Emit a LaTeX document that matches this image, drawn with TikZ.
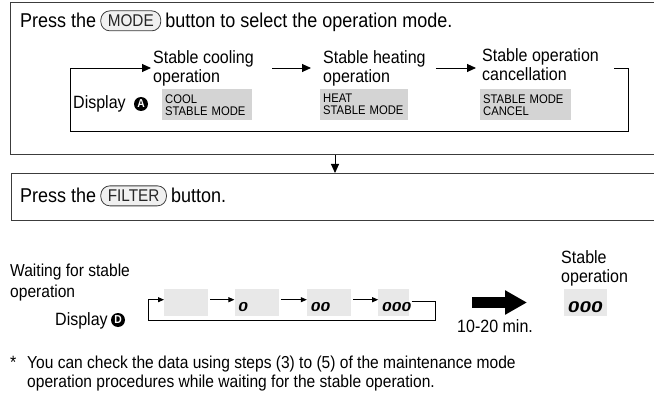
\documentclass[tikz,border=0pt]{standalone}
\usepackage{fontspec}
\setmainfont{Liberation Sans}[FakeStretch=0.9]
\newfontfamily\segfont{Liberation Sans}[FakeStretch=1.35,FakeSlant=0.18]
\usetikzlibrary{arrows.meta,positioning}
\definecolor{panelgray}{HTML}{D4D4D4}
\definecolor{lcdgray}{HTML}{E8E8E8}
\definecolor{framegray}{HTML}{3C3C3C}

\begin{document}
\begin{tikzpicture}[x=1pt,y=-1pt,
  every node/.style={inner sep=0pt},
  txt/.style={font=\fontsize{17.8}{19}\selectfont},
  head/.style={font=\fontsize{20}{22}\selectfont},
  lbl/.style={txt,align=left,anchor=north west},
  btn/.style={draw=framegray,line width=0.8pt,fill=black!6,rounded corners=9pt,
    inner xsep=7pt,minimum height=20pt,text=black!85,font=\fontsize{17}{17}\selectfont},
  panel/.style={fill=panelgray,anchor=north west,minimum height=31pt,inner xsep=3pt,
    align=left,font=\fontsize{12.5}{12}\selectfont},
  lcd/.style={fill=lcdgray,anchor=north west,minimum height=27pt,inner xsep=3pt,
    text width=38pt,align=left,text height=18pt,text depth=0pt,
    font=\segfont\bfseries\fontsize{13}{13}\selectfont},
  dispmark/.style={circle,fill=black,text=white,minimum size=14pt,
    font=\bfseries\fontsize{11.5}{11.5}\selectfont},
  frame/.style={draw=framegray,line width=1.3pt,anchor=north west,minimum width=680pt},
  flow/.style={-{Triangle[length=9pt,width=8pt]},line width=0.9pt},
  flowsm/.style={-{Triangle[length=6pt,width=5pt]},line width=0.8pt},
  bigarrow/.style={line width=11pt,-{Triangle[length=22pt,width=23pt]}}]
  \useasboundingbox (0,0) rectangle (654,401);

  % the two step frames
  \node[frame,minimum height=152pt] (stepA) at (10,2) {};
  \node[frame,minimum height=47pt] (stepB) at (11,173) {};
  \coordinate (downx) at (335,0);
  \draw[flow] (stepA.south -| downx) -- (stepB.north -| downx);

  % step 1
  \node[head,anchor=base west] (pressA) at (20,28) {Press the};
  \node[btn,right=4pt of pressA] (modebtn) {MODE};
  \node[head,anchor=base west,xshift=4pt] (pressAb) at (modebtn.east |- pressA.base)
    {button to select the operation mode.};

  \node[lbl] (cool) at (153,50) {Stable cooling\\operation};
  \node[lbl] (heat) at (323,50) {Stable heating\\operation};
  \node[lbl] (cancel) at (482,48) {Stable operation\\cancellation};
  \node[panel,text width=84pt] (coolpanel) at (162,89) {COOL\\STABLE MODE};
  \node[panel,text width=82pt] (heatpanel) at (320,89) {HEAT\\STABLE MODE};
  \node[panel,text width=85pt] (cancelpanel) at (480,89) {STABLE MODE\\CANCEL};
  \node[txt,anchor=base west] (dispA) at (73,109) {Display};
  \node[dispmark] (markA) at (141,104) {A};

  \draw[flow] ([xshift=18pt]cool.east) -- ([xshift=-12pt]heat.west);
  \draw[flow] ([xshift=10pt]heat.east) -- ([xshift=-6pt]cancel.west |- heat.east);
  \coordinate (loopA) at (628,131);
  \coordinate (loopB) at (70,131);
  \draw[flow] ([xshift=15pt]cancel.east |- heat.east) -| (loopA) -- (loopB)
    |- ([xshift=-2pt]cool.west);

  % step 2
  \node[head,anchor=base west] (pressB) at (20,203) {Press the};
  \node[btn,right=4pt of pressB] (filterbtn) {FILTER};
  \node[head,anchor=base west,xshift=4pt] (pressBb) at (filterbtn.east |- pressB.base)
    {button.};

  % waiting for the stable operation
  \node[lbl,font=\fontsize{17.3}{21}\selectfont] (waiting) at (10,264)
    {Waiting for stable\\operation};
  \node[txt,anchor=base west] (dispD) at (55,325) {Display};
  \node[dispmark] (markD) at (118,320) {D};

  \node[lcd] (lcd1) at (164,289) {};
  \node[lcd,right=26pt of lcd1] (lcd2) {0};
  \node[lcd,right=28pt of lcd2] (lcd3) {00};
  \node[lcd,right=27pt of lcd3,text width=25pt] (lcd4) {000};
  \draw[flowsm] ([xshift=2pt,yshift=3pt]lcd1.east) -- ([yshift=3pt]lcd2.west);
  \draw[flowsm] ([xshift=2pt,yshift=3pt]lcd2.east) -- ([yshift=3pt]lcd3.west);
  \draw[flowsm] ([xshift=2pt,yshift=3pt]lcd3.east) -- ([yshift=3pt]lcd4.west);
  \coordinate (waitR) at (435,320);
  \coordinate (waitL) at (148,320);
  \draw[flowsm] ([xshift=2pt,yshift=1pt]lcd4.east) -| (waitR) -- (waitL)
    |- ([yshift=3pt]lcd1.west);

  \node[lbl] (stable) at (561,250) {Stable\\operation};
  \node[lcd,text width=37pt,text height=19pt,
    font=\segfont\bfseries\fontsize{15.5}{15.5}\selectfont]
    (stablelcd) at (564,289) {000};
  \coordinate (bigL) at (472,302.5);
  \coordinate (bigR) at (527,302.5);
  \draw[bigarrow] (bigL) -- (bigR);
  \node[txt,anchor=base west] (wait) at (457,332) {10-20 min.};

  % note
  \node[txt,anchor=base west] (star) at (10,368) {*};
  \node[lbl,font=\fontsize{17.3}{19}\selectfont] (note) at (27,356)
    {You can check the data using steps (3) to (5) of the maintenance mode\\
     operation procedures while waiting for the stable operation.};
\end{tikzpicture}
\end{document}
